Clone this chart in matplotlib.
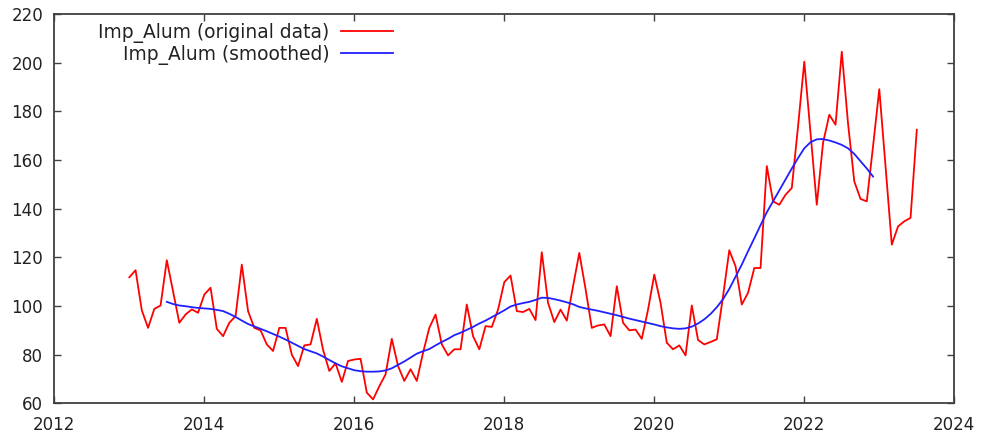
import numpy as np
import matplotlib
matplotlib.use("Agg")
import matplotlib.pyplot as plt


# monthly values, Jan 2013 .. Jul 2023
raw = [111.8, 114.7, 98.2, 91.0, 98.8, 100.2, 118.8, 106.0, 93.1, 96.5, 98.6, 97.2,
       104.7, 107.5, 90.6, 87.6, 93.1, 95.8, 117.0, 97.9, 91.0, 90.0, 84.2, 81.5,
       91.0, 91.0, 80.0, 75.3, 83.8, 84.2, 94.7, 82.0, 73.3, 76.4, 68.8, 77.4,
       78.0, 78.3, 64.4, 61.6, 67.0, 71.9, 86.5, 75.3, 69.2, 74.0, 69.2, 80.8,
       91.0, 96.5, 84.2, 79.7, 82.2, 82.2, 100.6, 87.6, 82.2, 91.7, 91.4, 98.5,
       109.8, 112.5, 97.9, 97.5, 98.8, 94.2, 122.1, 101.3, 93.4, 98.5, 94.0, 108.1,
       121.8, 107.0, 91.0, 92.0, 92.4, 87.6, 108.1, 93.1, 90.0, 90.3, 86.5, 98.5,
       112.9, 101.3, 84.9, 82.2, 83.8, 79.7, 100.2, 86.0, 84.2, 85.2, 86.3, 104.0,
       122.9, 116.3, 100.6, 105.4, 115.6, 115.6, 157.5, 143.0, 141.6, 145.7, 148.5, 173.8,
       200.4, 171.0, 141.6, 167.0, 178.6, 174.5, 204.5, 175.0, 151.2, 144.0, 143.0, 165.6,
       189.1, 157.4, 125.2, 132.7, 134.8, 136.2, 172.4]

# smoothed curve, Jul 2013 .. Dec 2022
smooth = [101.7, 100.8, 100.2, 99.9, 99.5, 99.2,
          99.0, 98.8, 98.4, 97.9, 96.8, 95.5, 94.0, 92.6, 91.6, 90.6, 89.6, 88.5,
          87.4, 86.2, 84.9, 83.6, 82.3, 81.4, 80.5, 79.2, 77.8, 76.4, 75.2, 74.4,
          73.6, 73.2, 73.0, 73.0, 73.1, 73.5, 74.4, 75.8, 77.2, 78.8, 80.4, 81.4,
          82.3, 83.8, 85.2, 86.5, 88.0, 89.0, 90.2, 91.4, 92.8, 94.0, 95.4, 96.8,
          98.2, 99.8, 100.6, 101.2, 101.7, 102.5, 103.4, 103.3, 102.8, 102.2, 101.5, 100.7,
          99.6, 99.0, 98.5, 98.0, 97.4, 96.8, 96.2, 95.5, 94.8, 94.2, 93.6, 93.0,
          92.4, 91.7, 91.2, 90.8, 90.6, 90.8, 91.5, 92.8, 94.5, 96.7, 99.5, 102.8,
          107.0, 112.0, 117.0, 122.5, 127.8, 133.2, 138.5, 143.0, 147.5, 152.0, 156.5, 160.8,
          164.8, 167.3, 168.5, 168.6, 168.0, 167.2, 166.2, 164.8, 162.5, 159.5, 156.5, 153.2]

start_year = 2013
smooth_offset = 6  # months

t_raw = start_year + np.arange(len(raw)) / 12.0
t_smooth = start_year + (smooth_offset + np.arange(len(smooth))) / 12.0

plt.rcParams['font.family'] = ['DejaVu Sans']
fig = plt.figure(figsize=(9.84, 4.4), dpi=100)
ax = fig.add_axes([0.0552, 0.0834, 0.9146, 0.8848])

ax.plot(t_raw, raw, color='#ff0000', lw=1.3, label='Imp_Alum (original data)')
ax.plot(t_smooth, smooth, color='#2020ff', lw=1.3, label='Imp_Alum (smoothed)')

ax.set_xlim(2012, 2024)
ax.set_ylim(60, 220)
ax.set_xticks(range(2012, 2025, 2))
ax.set_yticks(range(60, 221, 20))
ax.tick_params(direction='in', top=True, right=True, length=5, width=1,
               color='#404040', labelsize=12, labelcolor='#222222')
ax.tick_params(axis='x', pad=9)
ax.tick_params(axis='y', pad=8)
for s in ax.spines.values():
    s.set_color('#404040')
    s.set_linewidth(1.3)

leg = ax.legend(loc='upper right', bbox_to_anchor=(0.3763, 0.977), frameon=False,
                markerfirst=False, fontsize=13.4, handlelength=2.8,
                handletextpad=0.6, labelspacing=0.1, borderaxespad=0, borderpad=0)
for txt in leg.get_texts():
    txt.set_color('#222222')

fig.savefig('out.png', dpi=100)
